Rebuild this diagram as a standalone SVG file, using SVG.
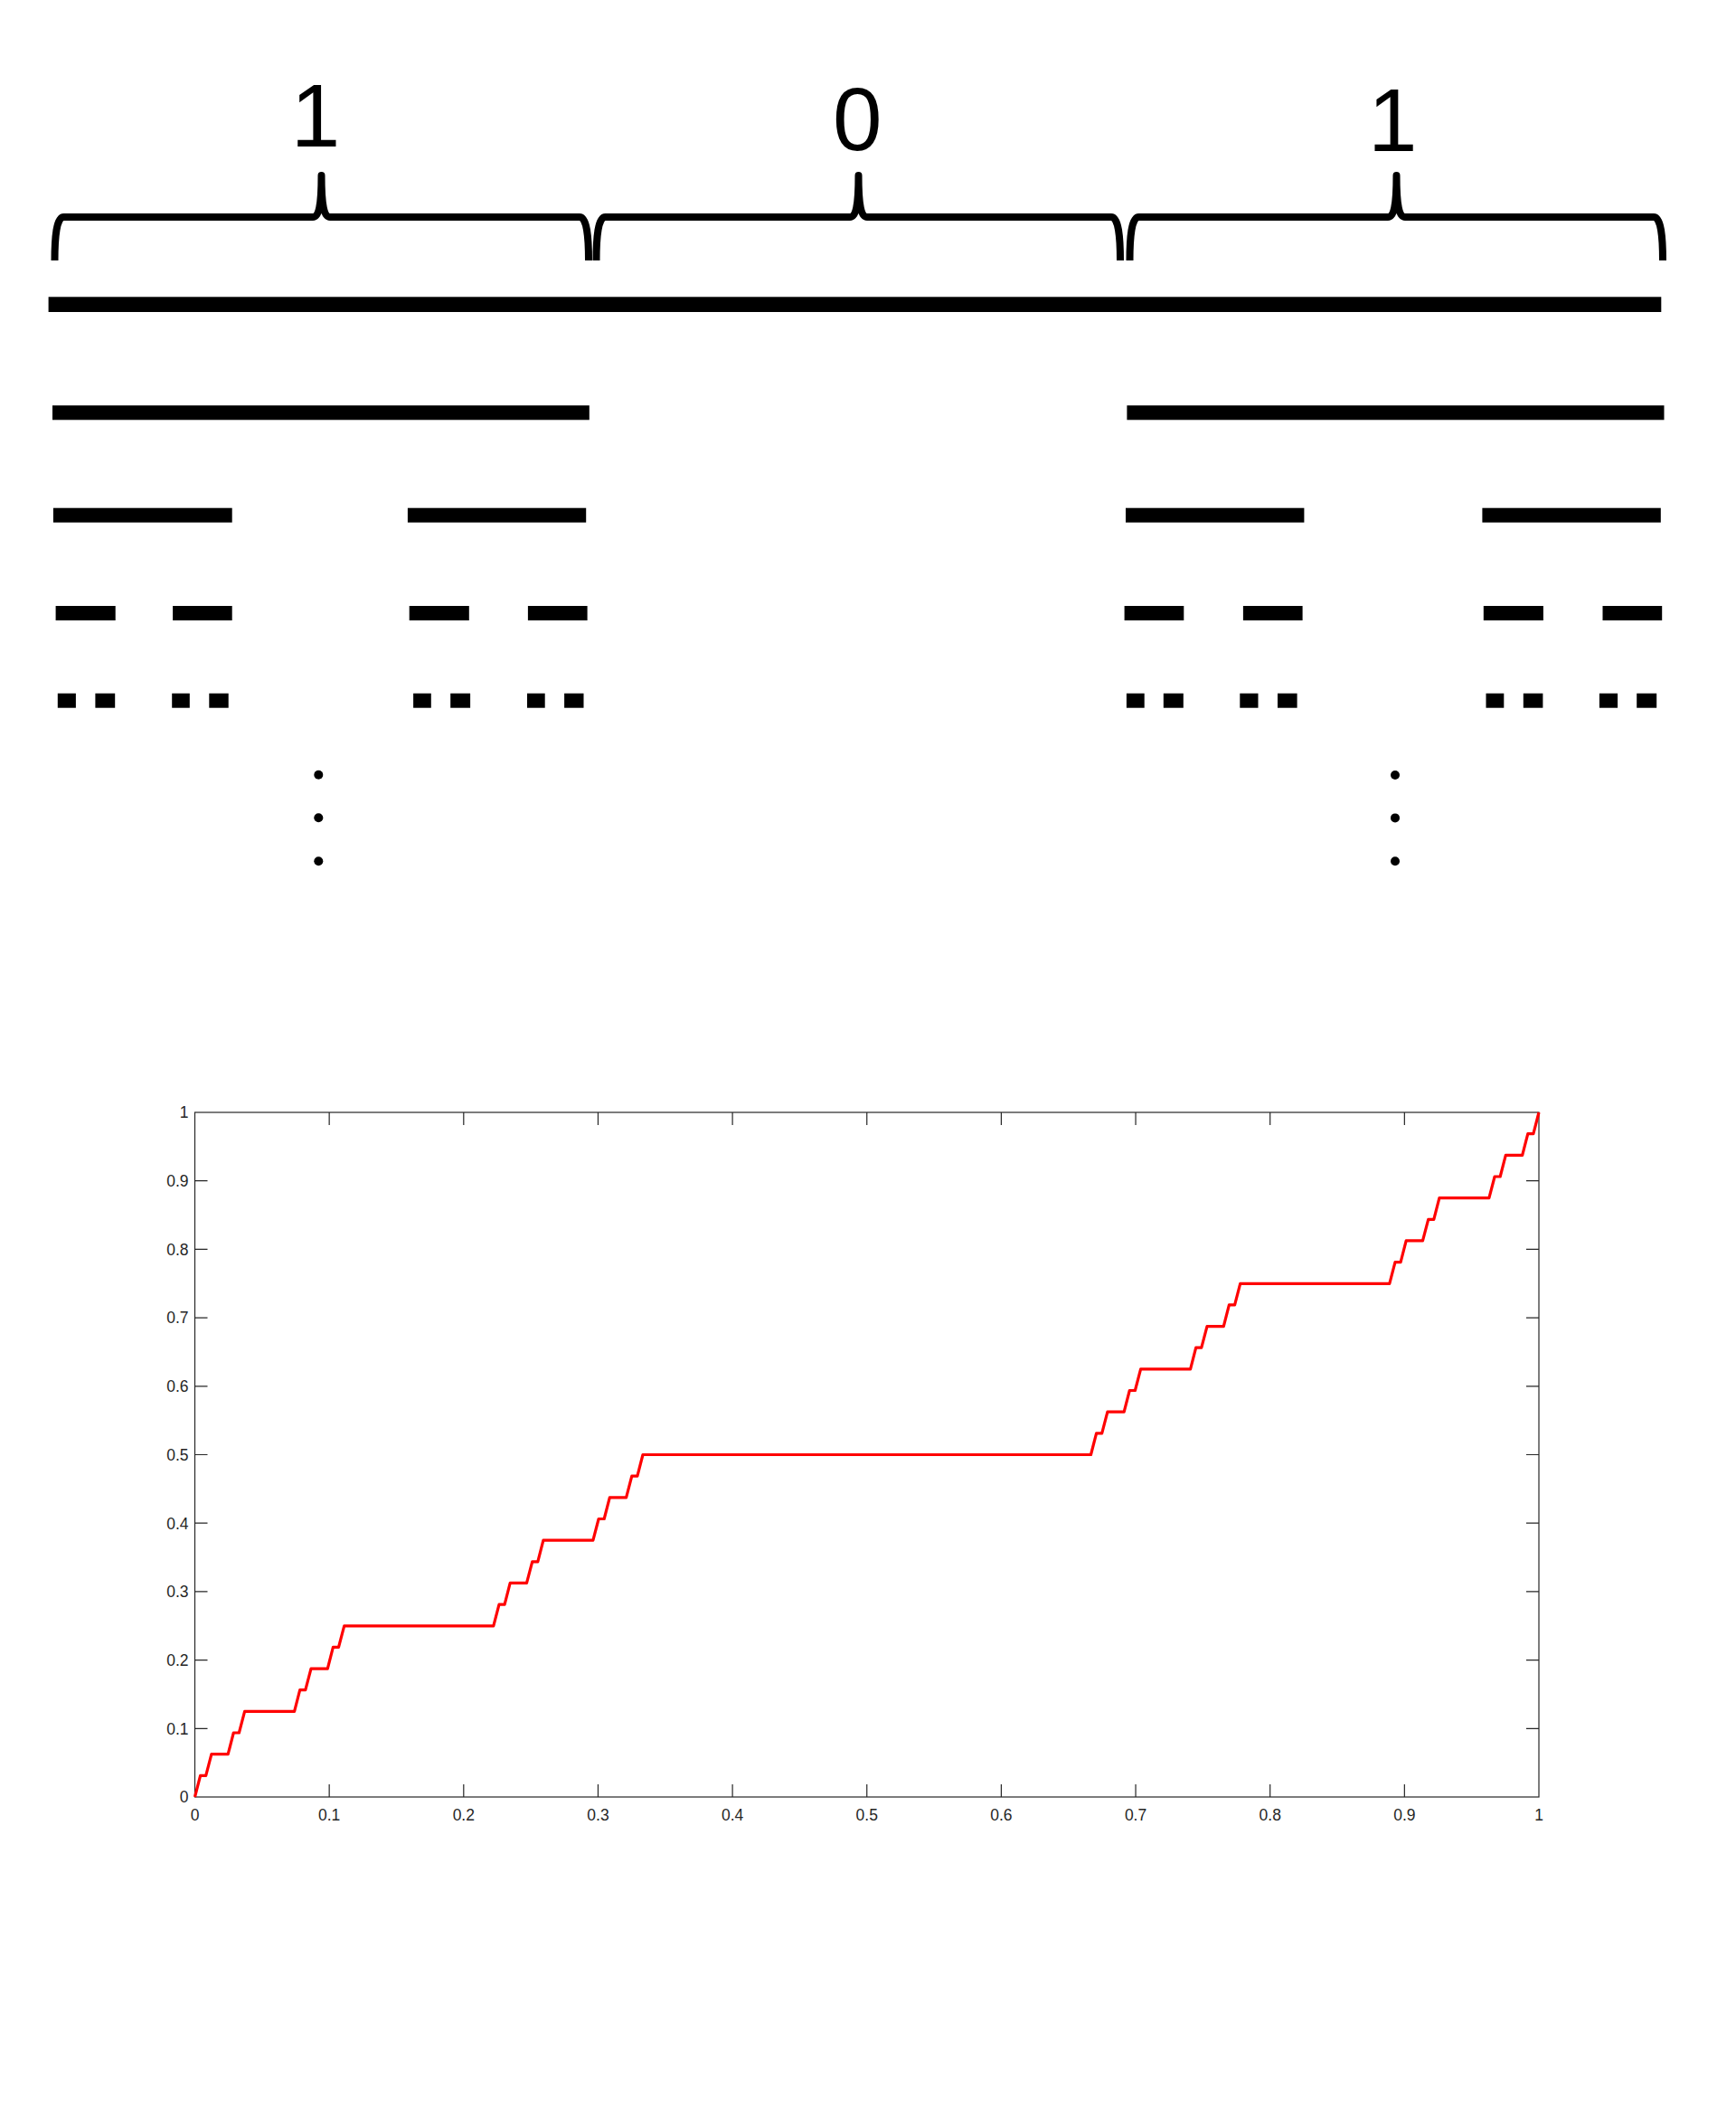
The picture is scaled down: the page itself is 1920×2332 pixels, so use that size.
<svg xmlns="http://www.w3.org/2000/svg" width="1920" height="2332" viewBox="0 0 1920 2332">
<style>
.big{font-family:"Liberation Sans",Arial,sans-serif;font-size:98px;fill:#000;text-anchor:middle}
.brace{fill:none;stroke:#000;stroke-width:8;stroke-linecap:butt;stroke-linejoin:round}
.bar{fill:#000}
.ax{fill:none;stroke:#262626;stroke-width:1.2}
.tk{stroke:#262626;stroke-width:1.2}
.yl{font-family:"Liberation Sans",Arial,sans-serif;font-size:17.5px;fill:#262626;text-anchor:end}
.xl{font-family:"Liberation Sans",Arial,sans-serif;font-size:17.5px;fill:#262626;text-anchor:middle}
.curve{fill:none;stroke:#ff0000;stroke-width:3.2;stroke-linejoin:round}
</style>
<rect width="1920" height="2332" fill="#fff"/>
<g id="labels">
<text class="big" x="349" y="162.3">1</text>
<text class="big" x="948.2" y="166">0</text>
<text class="big" x="1540.2" y="167.3">1</text>
</g>
<g id="braces">
<path id="brace1" class="brace" d="M60.5,288 C60.5,262 62.5,240 70.5,240 L346,240 C352.5,240 355.5,228 355.5,194 C355.5,228 358.5,240 365,240 L641,240 C649,240 651,262 651,288"/>
<path id="brace2" class="brace" d="M659.5,288 C659.5,262 661.5,240 669.5,240 L940,240 C946.5,240 949.5,228 949.5,194 C949.5,228 952.5,240 959,240 L1229,240 C1237,240 1239,262 1239,288"/>
<path id="brace3" class="brace" d="M1249.5,288 C1249.5,262 1251.5,240 1259.5,240 L1535,240 C1541.5,240 1544.5,228 1544.5,194 C1544.5,228 1547.5,240 1554,240 L1829,240 C1837,240 1839,262 1839,288"/>
</g>
<g id="cantor-bars">
<g id="level1"><rect class="bar" x="53.6" y="328.3" width="1783.7" height="16.7"/></g>
<g id="level2">
<rect class="bar" x="58" y="448.3" width="593.8" height="16"/>
<rect class="bar" x="1246.4" y="448.3" width="594.1" height="16"/>
</g>
<g id="level3">
<rect class="bar" x="58.9" y="561.7" width="197.8" height="16"/>
<rect class="bar" x="450.9" y="561.7" width="197.3" height="16"/>
<rect class="bar" x="1245" y="561.7" width="197.4" height="16"/>
<rect class="bar" x="1639.4" y="561.7" width="197.4" height="16"/>
</g>
<g id="level4">
<rect class="bar" x="61.6" y="670" width="66.1" height="16"/>
<rect class="bar" x="191.1" y="670" width="65.6" height="16"/>
<rect class="bar" x="452.7" y="670" width="66.1" height="16"/>
<rect class="bar" x="583.9" y="670" width="65.7" height="16"/>
<rect class="bar" x="1243.6" y="670" width="65.7" height="16"/>
<rect class="bar" x="1374.9" y="670" width="65.7" height="16"/>
<rect class="bar" x="1640.8" y="670" width="66.1" height="16"/>
<rect class="bar" x="1772.5" y="670" width="65.7" height="16"/>
</g>
<g id="level5">
<rect class="bar" x="63.8" y="766.7" width="20.1" height="16"/>
<rect class="bar" x="105.4" y="766.7" width="21.8" height="16"/>
<rect class="bar" x="190.2" y="766.7" width="19.6" height="16"/>
<rect class="bar" x="231.3" y="766.7" width="21.4" height="16"/>
<rect class="bar" x="457.1" y="766.7" width="19.7" height="16"/>
<rect class="bar" x="498.2" y="766.7" width="21.9" height="16"/>
<rect class="bar" x="583" y="766.7" width="19.7" height="16"/>
<rect class="bar" x="624.1" y="766.7" width="21.4" height="16"/>
<rect class="bar" x="1245.9" y="766.7" width="19.8" height="16"/>
<rect class="bar" x="1286.8" y="766.7" width="22" height="16"/>
<rect class="bar" x="1371.3" y="766.7" width="20.2" height="16"/>
<rect class="bar" x="1413" y="766.7" width="21.6" height="16"/>
<rect class="bar" x="1643.5" y="766.7" width="19.8" height="16"/>
<rect class="bar" x="1684.8" y="766.7" width="21.6" height="16"/>
<rect class="bar" x="1768.9" y="766.7" width="20.2" height="16"/>
<rect class="bar" x="1810.2" y="766.7" width="22" height="16"/>
</g>
<g id="ellipsis-left">
<circle cx="352.3" cy="856.7" r="5"/>
<circle cx="352.3" cy="904.3" r="5"/>
<circle cx="352.3" cy="952.3" r="5"/>
</g>
<g id="ellipsis-right">
<circle cx="1543" cy="857" r="5"/>
<circle cx="1543" cy="904.4" r="5"/>
<circle cx="1543" cy="952.2" r="5"/>
</g>
</g>
<g id="plot">
<g id="axes">
<rect class="ax" x="215.5" y="1230" width="1486.5" height="757"/>
<path class="tk" d="M215.5,1911.3h14M215.5,1835.6h14M215.5,1759.9h14M215.5,1684.2h14M215.5,1608.5h14M215.5,1532.8h14M215.5,1457.1h14M215.5,1381.4h14M215.5,1305.7h14
M1702,1911.3h-14M1702,1835.6h-14M1702,1759.9h-14M1702,1684.2h-14M1702,1608.5h-14M1702,1532.8h-14M1702,1457.1h-14M1702,1381.4h-14M1702,1305.7h-14
M364.15,1987v-14M512.8,1987v-14M661.45,1987v-14M810.1,1987v-14M958.75,1987v-14M1107.4,1987v-14M1256.05,1987v-14M1404.7,1987v-14M1553.35,1987v-14
M364.15,1230v14M512.8,1230v14M661.45,1230v14M810.1,1230v14M958.75,1230v14M1107.4,1230v14M1256.05,1230v14M1404.7,1230v14M1553.35,1230v14"/>
</g>
<g id="y-labels">
<text class="yl" x="208.5" y="1993.3">0</text>
<text class="yl" x="208.5" y="1917.6">0.1</text>
<text class="yl" x="208.5" y="1841.9">0.2</text>
<text class="yl" x="208.5" y="1766.2">0.3</text>
<text class="yl" x="208.5" y="1690.5">0.4</text>
<text class="yl" x="208.5" y="1614.8">0.5</text>
<text class="yl" x="208.5" y="1539.1">0.6</text>
<text class="yl" x="208.5" y="1463.4">0.7</text>
<text class="yl" x="208.5" y="1387.7">0.8</text>
<text class="yl" x="208.5" y="1312">0.9</text>
<text class="yl" x="208.5" y="1236.3">1</text>
</g>
<g id="x-labels">
<text class="xl" x="215.5" y="2013">0</text>
<text class="xl" x="364.15" y="2013">0.1</text>
<text class="xl" x="512.8" y="2013">0.2</text>
<text class="xl" x="661.45" y="2013">0.3</text>
<text class="xl" x="810.1" y="2013">0.4</text>
<text class="xl" x="958.75" y="2013">0.5</text>
<text class="xl" x="1107.4" y="2013">0.6</text>
<text class="xl" x="1256.05" y="2013">0.7</text>
<text class="xl" x="1404.7" y="2013">0.8</text>
<text class="xl" x="1553.35" y="2013">0.9</text>
<text class="xl" x="1702" y="2013">1</text>
</g>
<polyline id="cantor-function" class="curve" points="215.5,1987 221.6,1963.3 227.7,1963.3 233.9,1939.7 252.2,1939.7 258.3,1916 264.4,1916 270.6,1892.4 325.6,1892.4 331.7,1868.7 337.8,1868.7 344,1845.1 362.3,1845.1 368.4,1821.4 374.5,1821.4 380.7,1797.8 545.8,1797.8 552,1774.1 558.1,1774.1 564.2,1750.4 582.5,1750.4 588.7,1726.8 594.8,1726.8 600.9,1703.1 655.9,1703.1 662.1,1679.5 668.2,1679.5 674.3,1655.8 692.6,1655.8 698.8,1632.2 704.9,1632.2 711,1608.5 1206.5,1608.5 1212.6,1584.8 1218.7,1584.8 1224.9,1561.2 1243.2,1561.2 1249.3,1537.5 1255.4,1537.5 1261.6,1513.9 1316.6,1513.9 1322.7,1490.2 1328.8,1490.2 1335,1466.6 1353.3,1466.6 1359.4,1442.9 1365.6,1442.9 1371.7,1419.3 1536.8,1419.3 1543,1395.6 1549.1,1395.6 1555.2,1371.9 1573.5,1371.9 1579.7,1348.3 1585.8,1348.3 1591.9,1324.6 1646.9,1324.6 1653.1,1301 1659.2,1301 1665.3,1277.3 1683.7,1277.3 1689.8,1253.7 1695.9,1253.7 1702,1230"/>
</g>
</svg>
